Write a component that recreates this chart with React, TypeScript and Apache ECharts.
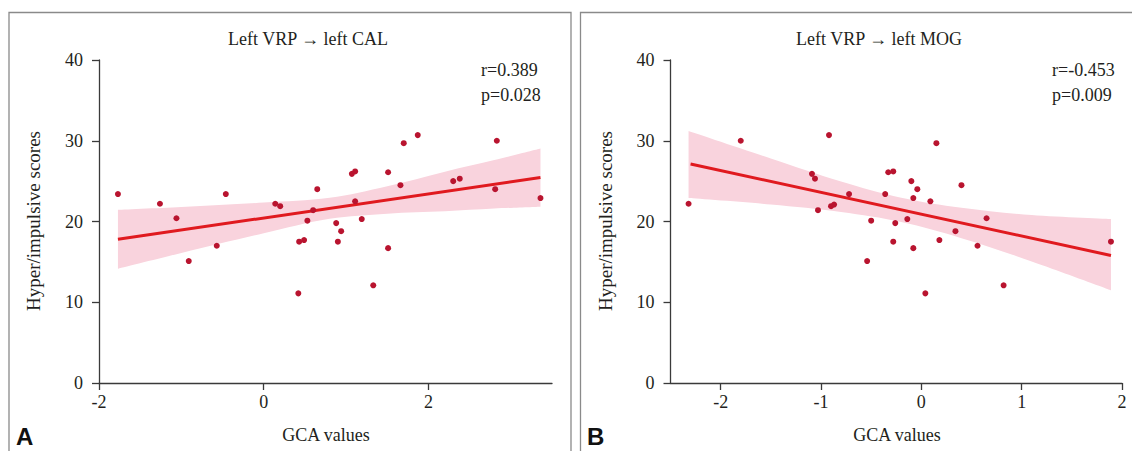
import React, { useEffect, useRef } from "react";
import * as echarts from "echarts";

// Panel A: Left VRP -> left CAL
const leftX = [-1.77, -1.26, -1.06, -0.91, -0.57, -0.46, 0.14, 0.2, 0.65, 0.6, 0.53, 0.43, 0.49, 0.42, 0.88, 0.94, 0.9, 1.07, 1.11, 1.11, 1.19, 1.33, 1.51, 1.51, 1.66, 1.7, 1.87, 2.3, 2.38, 2.83, 2.81, 3.36];
const leftY = [23.4, 22.2, 20.4, 15.1, 17.0, 23.4, 22.2, 21.9, 24.0, 21.4, 20.1, 17.5, 17.7, 11.1, 19.8, 18.8, 17.5, 25.9, 26.2, 22.5, 20.3, 12.1, 26.1, 16.7, 24.5, 29.7, 30.7, 25.0, 25.3, 30.0, 24.0, 22.9];
const leftFitX = [-1.77, 3.36];
const leftFitY = [17.8, 25.44];
const leftBandX = [-1.77, -1, 0, 0.8, 1.5, 2.2, 2.8, 3.36];
const leftBandUpper = [21.45, 21.8, 22.34, 22.93, 24.37, 26.17, 27.61, 29.04];
const leftBandLower = [14.15, 16.1, 18.54, 20.33, 20.97, 21.27, 21.61, 21.84];

// Panel B: Left VRP -> left MOG
const rightX = [-2.32, -1.8, -0.92, -1.09, -1.06, -1.03, -0.9, -0.87, -0.72, -0.5, -0.54, -0.36, -0.33, -0.28, -0.26, -0.28, -0.14, -0.1, -0.08, -0.04, -0.08, 0.04, 0.09, 0.15, 0.18, 0.34, 0.4, 0.56, 0.65, 0.82, 1.89];
const rightY = [22.2, 30.0, 30.7, 25.9, 25.3, 21.4, 21.9, 22.1, 23.4, 20.1, 15.1, 23.4, 26.1, 26.2, 19.8, 17.5, 20.3, 25.0, 22.9, 24.0, 16.7, 11.1, 22.5, 29.7, 17.7, 18.8, 24.5, 17.0, 20.4, 12.1, 17.5];
const rightFitX = [-2.3, 1.89];
const rightFitY = [27.13, 15.79];
const rightBandX = [-2.32, -1.5, -0.8, -0.2, 0.4, 1.1, 1.89];
const rightBandUpper = [31.2, 27.8, 24.95, 22.95, 21.7, 20.8, 20.3];
const rightBandLower = [22.9, 22.1, 21.17, 19.93, 17.94, 15.06, 11.5];

const leftTicks = [-2, 0, 2];
const rightTicks = [-2, -1, 0, 1, 2];
const yTicks = [0, 10, 20, 30, 40];

const titles = ["Left VRP \u2192 left CAL", "Left VRP \u2192 left MOG"];
const stats = [["r=0.389", "p=0.028"], ["r=-0.453", "p=0.009"]];
const panelLetters = ["A", "B"];
const xName = "GCA values";
const yName = "Hyper/impulsive scores";

const SERIF = "Liberation Serif";
const SANS = "Liberation Sans";
const TXT = "#231f20";
const AXIS = "#3a3a3a";
const BAND = "#f9d3dd";
const DOT = "#b9142f";
const FIT = "#e01a1f";

// [y, x] pairs so that stacking happens on the y value
const yx = (xs: number[], ys: number[]) => xs.map((v, i) => [ys[i], v]);
const xy = (xs: number[], ys: number[]) => xs.map((v, i) => [v, ys[i]]);

export default function App() {
  const ref = useRef<HTMLDivElement>(null);
  useEffect(() => {
    if (!ref.current) return;
    const chart = echarts.init(ref.current, undefined, { renderer: "svg" });

    const xAxisBase = (gridIndex: number, min: number, max: number, ticks: number[]) => ({
      type: "value",
      gridIndex,
      min,
      max,
      axisLine: { show: true, onZero: false, lineStyle: { color: AXIS, width: 1.3 } },
      axisTick: { show: true, inside: false, length: 7, customValues: ticks, lineStyle: { color: AXIS, width: 1.3 } },
      axisLabel: {
        customValues: ticks,
        margin: 10,
        color: TXT,
        fontFamily: SERIF,
        fontSize: 18,
        formatter: (v: number) => (ticks.indexOf(v) >= 0 ? String(v) : ""),
      },
      splitLine: { show: false },
    });
    const yAxisBase = (gridIndex: number) => ({
      type: "value",
      gridIndex,
      min: 0,
      max: 40,
      interval: 10,
      axisLine: { show: true, onZero: false, lineStyle: { color: AXIS, width: 1.3 } },
      axisTick: { show: true, inside: false, length: 7, lineStyle: { color: AXIS, width: 1.3 } },
      axisLabel: { margin: 16, color: TXT, fontFamily: SERIF, fontSize: 18 },
      splitLine: { show: false },
    });

    const bandSeries = (idx: number, bx: number[], up: number[], lo: number[]) => [
      {
        type: "line",
        xAxisIndex: idx,
        yAxisIndex: idx,
        stack: "band" + idx,
        encode: { x: 1, y: 0 },
        data: yx(bx, lo),
        symbol: "none",
        smooth: 0.35,
        lineStyle: { width: 0, opacity: 0 },
        silent: true,
        z: 1,
      },
      {
        type: "line",
        xAxisIndex: idx,
        yAxisIndex: idx,
        stack: "band" + idx,
        encode: { x: 1, y: 0 },
        data: yx(bx, up.map((u, i) => u - lo[i])),
        symbol: "none",
        smooth: 0.35,
        lineStyle: { width: 0, opacity: 0 },
        areaStyle: { color: BAND, opacity: 1 },
        silent: true,
        z: 1,
      },
    ];
    const fitSeries = (idx: number, fx: number[], fy: number[]) => ({
      type: "line",
      xAxisIndex: idx,
      yAxisIndex: idx,
      data: xy(fx, fy),
      symbol: "none",
      lineStyle: { color: FIT, width: 3 },
      z: 3,
    });
    const dotSeries = (idx: number, xs: number[], ys: number[]) => ({
      type: "scatter",
      xAxisIndex: idx,
      yAxisIndex: idx,
      data: xy(xs, ys),
      symbolSize: 6,
      itemStyle: { color: DOT, opacity: 1 },
      z: 4,
    });

    const textEl = (text: string, x: number, y: number, extra: any = {}) => ({
      type: "text",
      x,
      y,
      silent: true,
      style: {
        text,
        fill: TXT,
        fontFamily: SERIF,
        fontSize: 18,
        align: "center",
        verticalAlign: "middle",
        ...extra,
      },
    });

    chart.setOption({
      animation: false,
      backgroundColor: "#ffffff",
      grid: [
        { left: 99, top: 60, width: 453, height: 323, containLabel: false, outerBoundsMode: "none" },
        { left: 670.5, top: 60, width: 451.5, height: 323, containLabel: false, outerBoundsMode: "none" },
      ],
      xAxis: [xAxisBase(0, -2, 3.5, leftTicks), xAxisBase(1, -2.5, 2, rightTicks)],
      yAxis: [yAxisBase(0), yAxisBase(1)],
      series: [
        ...bandSeries(0, leftBandX, leftBandUpper, leftBandLower),
        fitSeries(0, leftFitX, leftFitY),
        dotSeries(0, leftX, leftY),
        ...bandSeries(1, rightBandX, rightBandUpper, rightBandLower),
        fitSeries(1, rightFitX, rightFitY),
        dotSeries(1, rightX, rightY),
      ],
      graphic: [
        {
          type: "rect",
          silent: true,
          shape: { x: 9, y: 12.5, width: 562, height: 520 },
          style: { fill: "none", stroke: "#8a8a8a", lineWidth: 1.3 },
        },
        {
          type: "rect",
          silent: true,
          shape: { x: 580.5, y: 12.5, width: 620, height: 520 },
          style: { fill: "none", stroke: "#8a8a8a", lineWidth: 1.3 },
        },
        textEl(titles[0], 308, 39),
        textEl(titles[1], 879, 39),
        textEl(stats[0][0], 481, 70, { align: "left" }),
        textEl(stats[0][1], 481, 95, { align: "left" }),
        textEl(stats[1][0], 1052, 70, { align: "left" }),
        textEl(stats[1][1], 1052, 95, { align: "left" }),
        textEl(xName, 326, 435),
        textEl(xName, 897, 435),
        { ...textEl(yName, 33, 221, { fontSize: 19 }), rotation: Math.PI / 2 },
        { ...textEl(yName, 605, 221, { fontSize: 19 }), rotation: Math.PI / 2 },
        textEl(panelLetters[0], 16, 436, { align: "left", fontFamily: SANS, fontWeight: "bold", fontSize: 24, fill: "#111" }),
        textEl(panelLetters[1], 587, 436, { align: "left", fontFamily: SANS, fontWeight: "bold", fontSize: 24, fill: "#111" }),
      ],
    });

    return () => chart.dispose();
  }, []);

  return (
    <div
      ref={ref}
      style={{ position: "absolute", left: 0, top: 0, width: 1132, height: 451 }}
    />
  );
}
